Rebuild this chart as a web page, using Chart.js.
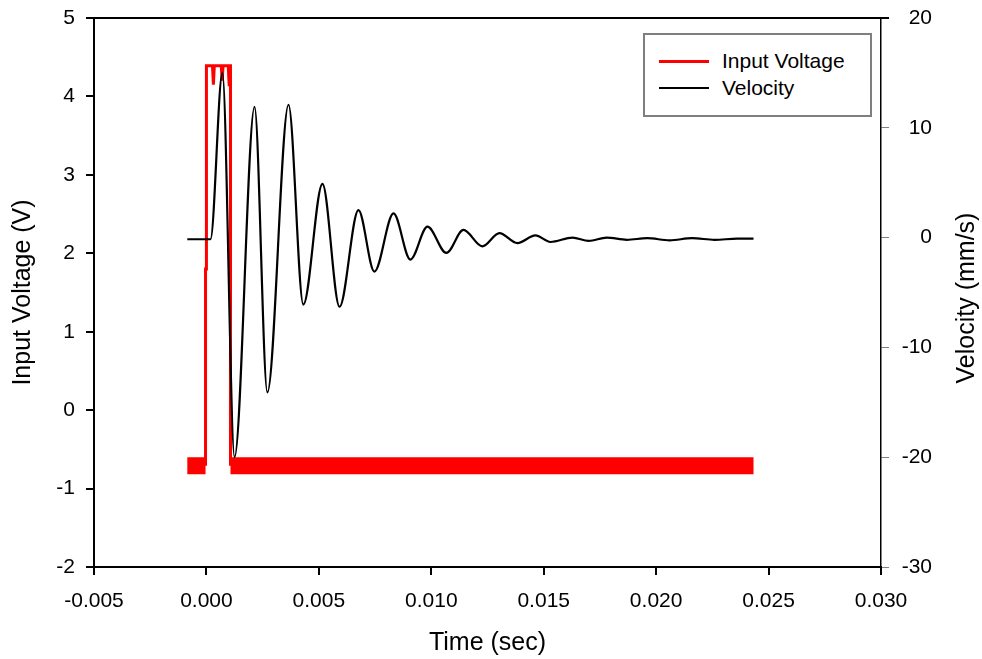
<!DOCTYPE html>
<html>
<head>
<meta charset="utf-8">
<script src="https://cdn.jsdelivr.net/npm/chart.js@4.4.0/dist/chart.umd.min.js"></script>
<style>
  html, body { margin: 0; padding: 0; background: #fff; }
  #wrap { position: relative; width: 982px; height: 659px; }
  #legend {
    position: absolute; left: 643px; top: 33px; width: 229px; height: 84px;
    box-sizing: border-box; border: 2px solid #7f7f7f; background: #fff;
    font-family: "Liberation Sans", Arial, sans-serif; font-size: 21px; color: #000;
  }
  .row { position: absolute; left: 0; height: 24px; }
  .row .ln { position: absolute; left: 14px; width: 50px; }
  .row .tx { position: absolute; left: 77px; top: 0; line-height: 24px; white-space: nowrap; }
</style>
</head>
<body>
<div id="wrap">
  <canvas id="chart" width="982" height="659"></canvas>
  <div id="legend">
    <div class="row" style="top:14px"><div class="ln" style="top:11px;height:3px;background:#ff0000"></div><span class="tx">Input Voltage</span></div>
    <div class="row" style="top:41px"><div class="ln" style="top:11px;height:2px;background:#000"></div><span class="tx">Velocity</span></div>
  </div>
</div>
<script>
// input voltage pulse (V)
const pulseT = [-0.00004, -0.00004, 0.0, 0.0, 0.00027, 0.00031, 0.00035, 0.00066, 0.0007, 0.00074, 0.00097, 0.00101, 0.00104, 0.00107, 0.00107];
const pulseV = [-0.71, 1.8, 1.8, 4.39, 4.39, 4.15, 4.39, 4.39, 4.2, 4.39, 4.39, 4.15, 4.39, 4.39, -0.71];

// noisy baseline of the input voltage (null = gap during the pulse)
const baseT = [-0.00085, -0.00004, 0.0005, 0.00107, 0.02433];
const baseV = [-0.71, -0.71, null, -0.71, -0.71];

// velocity (mm/s)
const velT = [-0.00085, 0.00018, 0.00071, 0.00125, 0.00214, 0.00271, 0.00365, 0.00431, 0.00516, 0.00592,
  0.00676, 0.00747, 0.00832, 0.00907, 0.00983, 0.01067, 0.01143, 0.01227, 0.01303, 0.01383,
  0.01463, 0.0153, 0.01628, 0.017, 0.0178, 0.0187, 0.0196, 0.0206, 0.0216, 0.0226, 0.0236, 0.02433];
const velV = [-0.15, -0.15, 15.0, -20.0, 11.9, -14.1, 12.1, -6.1, 4.9, -6.3,
  2.5, -3.1, 2.2, -2.0, 1.0, -1.4, 0.7, -0.8, 0.4, -0.5,
  0.2, -0.4, 0.0, -0.3, 0.0, -0.2, -0.05, -0.25, -0.05, -0.2, -0.1, -0.1];

const xTitle = "Time (sec)";
const yTitle = "Input Voltage (V)";
const y2Title = "Velocity (mm/s)";

const FONT = '"Liberation Sans", Arial, sans-serif';
Chart.defaults.font.family = FONT;
Chart.defaults.color = "#000";

const pts = (xs, ys) => xs.map((x, i) => ({ x: x, y: ys[i] }));

// top frame line + right axis title (reads bottom to top like the left one)
const frame = {
  id: "frame",
  afterDraw(chart) {
    const { ctx, chartArea: a } = chart;
    ctx.save();
    ctx.strokeStyle = "#000";
    ctx.lineWidth = 2;
    ctx.beginPath();
    ctx.moveTo(a.left, a.top);
    ctx.lineTo(a.right + 8, a.top);
    ctx.stroke();
    ctx.translate(967, 298);
    ctx.rotate(-Math.PI / 2);
    ctx.font = "25px " + FONT;
    ctx.fillStyle = "#000";
    ctx.textAlign = "center";
    ctx.textBaseline = "middle";
    ctx.fillText(y2Title, 0, 0);
    ctx.restore();
  },
};

new Chart(document.getElementById("chart").getContext("2d"), {
  type: "line",
  data: {
    datasets: [
      {
        label: "Velocity",
        data: pts(velT, velV),
        yAxisID: "y2",
        borderColor: "#000",
        borderWidth: 2.2,
        pointRadius: 0,
        cubicInterpolationMode: "monotone",
        order: 0,
      },
      {
        label: "Input Voltage",
        data: pts(pulseT, pulseV),
        yAxisID: "y",
        borderColor: "#ff0000",
        borderWidth: 3,
        pointRadius: 0,
        order: 1,
      },
      {
        label: "Input Voltage",
        data: pts(baseT, baseV),
        yAxisID: "y",
        borderColor: "#ff0000",
        borderWidth: 17,
        borderCapStyle: "butt",
        pointRadius: 0,
        spanGaps: false,
        order: 2,
      },
    ],
  },
  options: {
    responsive: false,
    animation: false,
    layout: { padding: { top: 18, left: 0, right: 50, bottom: 0 } },
    plugins: { legend: { display: false }, tooltip: { enabled: false } },
    scales: {
      x: {
        type: "linear",
        position: "bottom",
        min: -0.005,
        max: 0.03,
        ticks: {
          stepSize: 0.005,
          font: { size: 21 },
          padding: 14,
          callback: (v) => (Math.abs(v) < 1e-9 ? 0 : v).toFixed(3),
        },
        grid: { drawOnChartArea: false, tickLength: 8, color: "#000", lineWidth: 2 },
        border: { color: "#000", width: 2 },
        title: { display: true, text: xTitle, font: { size: 25 }, padding: { bottom: 1 } },
        afterFit: (s) => { s.height = 92; },
      },
      y: {
        type: "linear",
        position: "left",
        min: -2,
        max: 5,
        ticks: { stepSize: 1, font: { size: 21 }, padding: 11 },
        grid: { drawOnChartArea: false, tickLength: 8, color: "#000", lineWidth: 2 },
        border: { color: "#000", width: 2 },
        title: { display: true, text: yTitle, font: { size: 25 }, padding: { top: 8 } },
        afterFit: (s) => { s.width = 94; s.paddingTop = 0; },
      },
      y2: {
        type: "linear",
        position: "right",
        min: -30,
        max: 20,
        ticks: { stepSize: 10, font: { size: 21 }, padding: 8, crossAlign: "far" },
        grid: { drawOnChartArea: false, tickLength: 8, color: "#808080", lineWidth: 1 },
        border: { color: "#000", width: 1.5 },
        afterFit: (s) => { s.width = 51; s.paddingTop = 0; },
      },
    },
  },
  plugins: [frame],
});
</script>
</body>
</html>
